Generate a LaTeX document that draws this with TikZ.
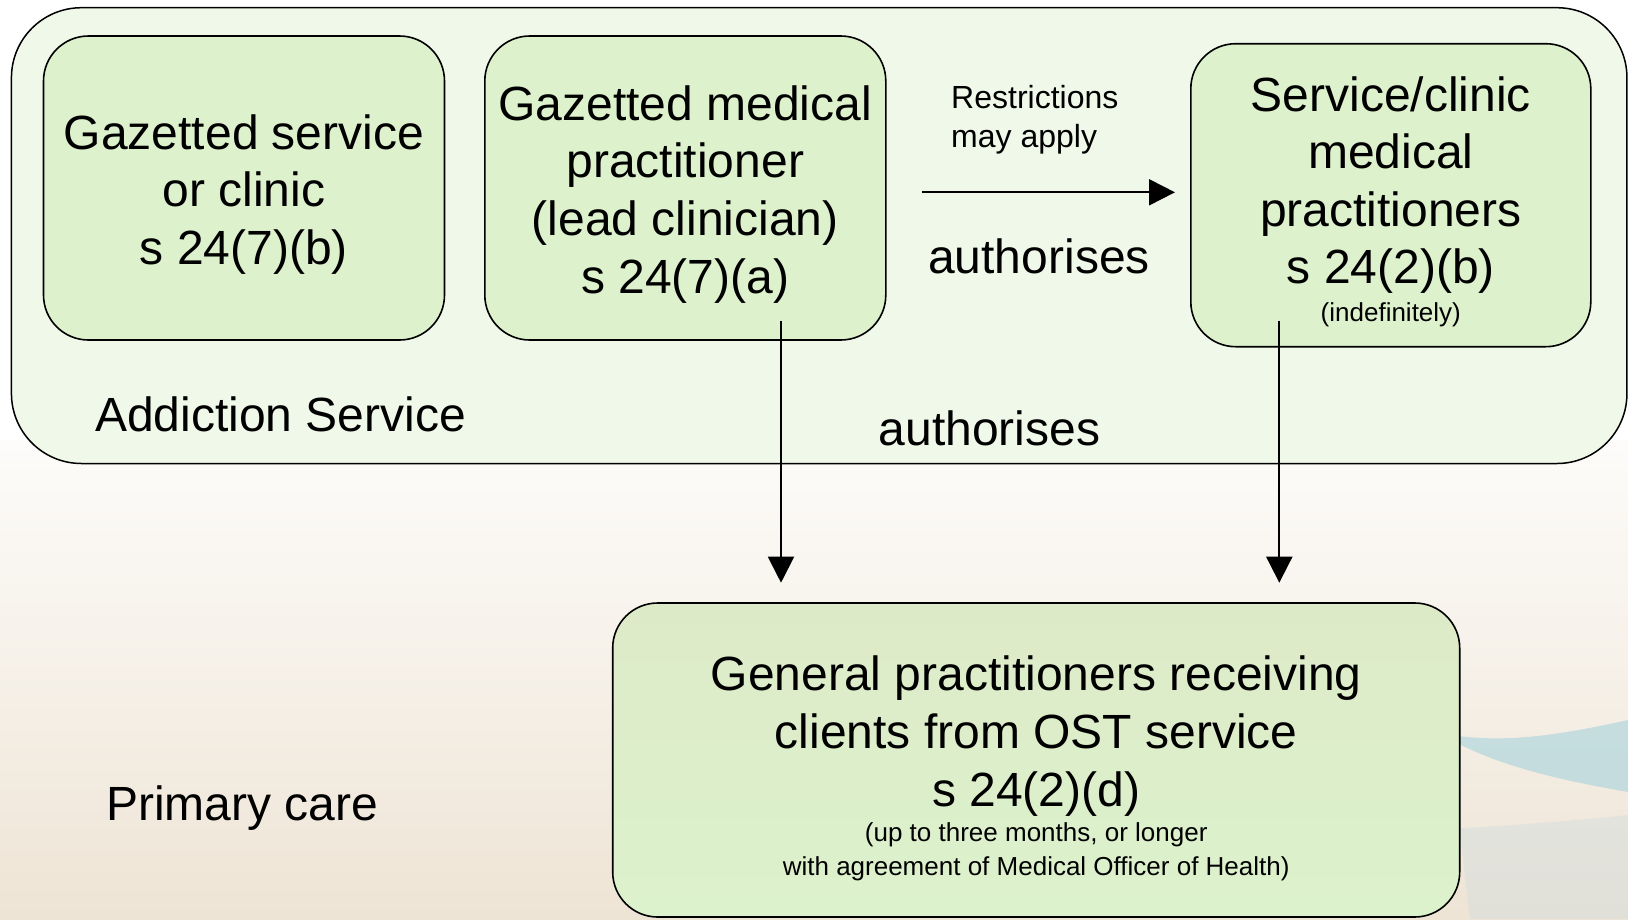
\documentclass[tikz,border=0pt]{standalone}
\usepackage{fontspec}
\setmainfont{Liberation Sans}
\usetikzlibrary{arrows.meta}
\definecolor{boxfill}{HTML}{DCF1CC}
\definecolor{outerfill}{HTML}{EFF8E9}
\definecolor{bgbottom}{HTML}{EEE4D5}
\definecolor{bgtop}{HTML}{FDFCFA}
\definecolor{swooshA}{HTML}{8CCADB}
\definecolor{swooshB}{HTML}{C2D7E0}
\definecolor{gptop}{HTML}{DDEAC8}
\definecolor{gpbot}{HTML}{DCF2CC}
\newcommand{\mybig}{\fontsize{48}{57.6}\selectfont}
\newcommand{\mysmall}{\fontsize{26}{31}\selectfont}
\newcommand{\mymid}{\fontsize{32}{39}\selectfont}
\newcommand{\mytopstrut}{\rule{0pt}{47.4pt}}
\newcommand{\mygpstrut}{\rule{0pt}{52pt}}
\newcommand{\mybotstrut}{\rule[-10.2pt]{0pt}{10.2pt}}
\newcommand{\mysmbotstrut}{\rule[-5.5pt]{0pt}{5.5pt}}
\begin{document}
\begin{tikzpicture}[x=1pt,y=-1pt,
  stagebox/.style={draw=black, line width=1.6pt, rounded corners=45pt, fill=boxfill,
    inner sep=0pt, align=center, font=\mybig, text=black},
  outerbox/.style={draw=black, line width=1.5pt, rounded corners=70pt, fill=outerfill, inner sep=0pt},
  arrowline/.style={line width=2pt, -{Triangle[length=26pt,width=26pt]}},
  lbl/.style={inner sep=0pt, font=\mybig, text=black}]
\useasboundingbox (0,0) rectangle (1628,919);
% background
\fill[white] (0,0) rectangle (1628,919);
\shade[top color=bgtop, bottom color=bgbottom] (0,440) rectangle (1628,919);
% decoration swooshes
\begin{scope}
\clip (0,0) rectangle (1628,919);
\fill[swooshA, opacity=0.45] (1440,733) .. controls (1500,745) and (1560,735) .. (1628,720)
  -- (1628,792) .. controls (1560,780) and (1490,765) .. (1440,733) -- cycle;
\fill[swooshB, opacity=0.3] (1460,828) .. controls (1520,825) and (1580,820) .. (1628,815)
  -- (1628,919) -- (1470,919) .. controls (1465,880) .. (1460,828) -- cycle;
\end{scope}
% outer region
\node[outerbox, minimum width=1615.5pt, minimum height=455.8pt] (addiction) at (819.2,235.6) {};
\node[lbl, anchor=base west] (addlbl) at (95,431.7) {Addiction Service};
\node[lbl, anchor=base west] (pclbl) at (106,820) {Primary care};
% boxes
\node[stagebox, minimum width=401pt, minimum height=304pt] (b1) at (244,188)
  {\mytopstrut Gazetted service\\or clinic\\s 24(7)(b)\mybotstrut};
\node[stagebox, minimum width=401pt, minimum height=304pt] (b2) at (685.3,188)
  {\mytopstrut Gazetted medical\\practitioner\\(lead clinician)\\s 24(7)(a)\mybotstrut};
\node[stagebox, minimum width=400pt, minimum height=303pt] (b3) at (1390.8,195.2)
  {\mytopstrut Service/clinic\\medical\\practitioners\\s 24(2)(b)\\[-20.2pt]{\mysmall (indefinitely)\mysmbotstrut}};
\node[stagebox, top color=gptop, bottom color=gpbot, minimum width=847pt, minimum height=314pt] (b4) at (1036.2,760)
  {\mygpstrut General practitioners receiving\\clients from OST service\\s 24(2)(d)\\[-22pt]{\mysmall (up to three months, or longer}\\[-23.7pt]{\mysmall with agreement of Medical Officer of Health)\mysmbotstrut}};
% labels
\node[inner sep=0pt, font=\mymid, align=left, anchor=north west] (restr) at (951,78.3)
  {\rule{0pt}{30pt}Restrictions\\may apply};
\node[lbl, anchor=base] (auth1) at (1039,273.3) {authorises};
\node[lbl, anchor=base] (auth2) at (989.5,445.3) {authorises};
% connectors
\coordinate (a0s) at (922.3,192.3);
\coordinate (a0e) at (1175,192.3);
\coordinate (a1s) at (781,320.7);
\coordinate (a1e) at (781,582.7);
\coordinate (a2s) at (1279.3,320.7);
\coordinate (a2e) at (1279.3,582.7);
\draw[arrowline] (a0s) -- (a0e);
\draw[arrowline] (a1s) -- (a1e);
\draw[arrowline] (a2s) -- (a2e);
\end{tikzpicture}
\end{document}
